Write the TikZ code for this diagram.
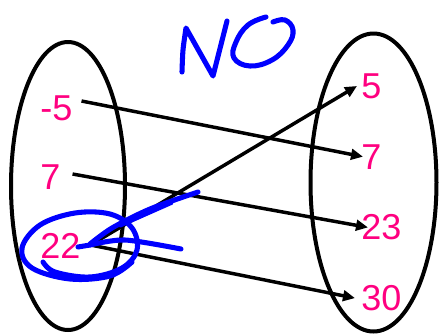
\documentclass[tikz,border=0pt]{standalone}
\usepackage{fontspec}
\setmainfont{Liberation Sans}
\usetikzlibrary{arrows.meta}
\definecolor{numpink}{RGB}{255,0,128}
\definecolor{penblue}{RGB}{0,0,255}

\begin{document}
\begin{tikzpicture}[
  x=0.75pt, y=-0.75pt,
  num/.style={
    text=numpink, anchor=west,
    inner sep=0pt,
    font=\fontsize{27}{30}\selectfont
  },
  setring/.style={draw, line width=3pt},
  mapto/.style={line width=2.6pt, -{Triangle[length=9pt,width=8pt]}},
  scribble/.style={draw=penblue, line width=3.8pt, line cap=round, line join=round}
]
\useasboundingbox (0,0) rectangle (440,333);

% --- Sets ---
\draw[setring] (68,186) ellipse [x radius=57, y radius=144];
\draw[setring] (373.5,182.5) ellipse [x radius=63, y radius=149];

% --- Domain ---
\foreach \v [count=\i] in {-5,7,22}
  \node[num] (d\i) at (40,{108+69*(\i-1)}) {\v};

% --- Range ---
\foreach \v [count=\i] in {5,7,23,30}
  \node[num] (r\i) at (361,{86+70.7*(\i-1)}) {\v};

% --- Mapping ---
\foreach \a/\b/\sx/\sy/\ex in {1/2/9/-7/2, 2/3/12/-3/7, 3/1/10/-1/-4, 3/4/10/-1/-6}
  \draw[mapto] ([shift={(\sx,\sy)}]d\a.east) -- ([shift={(\ex,0)}]r\b.west);

% --- Pen marks ---
\draw[scribble] plot[smooth, tension=0.5] coordinates {(182,72) (183,50) (186,28)}
  -- (213,76) -- (227,21);
\draw[scribble] plot[smooth, tension=0.7] coordinates
  {(266,17) (248,25) (236,42) (234,58) (250,66) (272,60) (288,45) (293,30) (285,20) (273,22)};

\draw[scribble] plot[smooth, tension=0.6] coordinates
  {(43,262) (55,272) (90,277) (122,268) (137,250) (132,228) (110,214) (75,213)
   (40,225) (22,248) (32,268) (70,279) (110,276) (132,262)};
\draw[scribble] (78,247) -- (90,245);
\draw[scribble] plot[smooth, tension=0.5] coordinates {(198,192) (150,209) (112,228) (90,244)};
\draw[scribble] plot[smooth, tension=0.5] coordinates {(90,245) (125,240) (181,249)};
\draw[scribble, line width=2.5pt] (120,226) -- (172,203);
\end{tikzpicture}
\end{document}
